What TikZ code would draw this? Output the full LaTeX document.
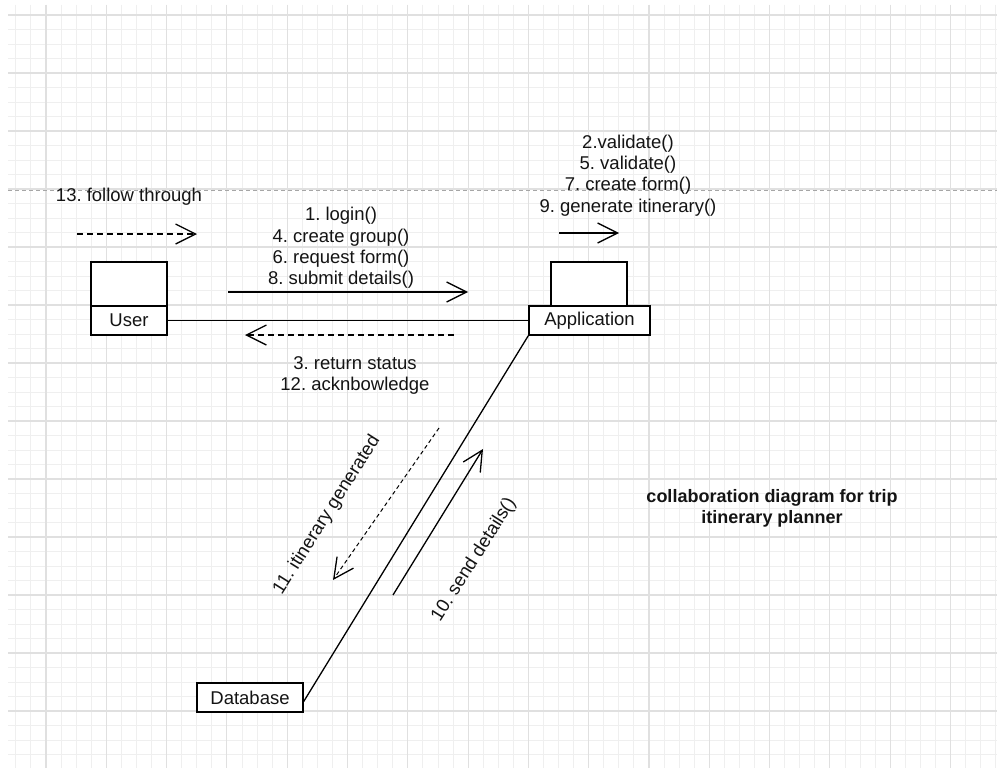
\documentclass[tikz,border=0pt]{standalone}
\usepackage{fontspec}
\setmainfont{Liberation Sans}
\usetikzlibrary{arrows.meta}
\definecolor{gridminor}{HTML}{EFEFEF}
\definecolor{gridmajor}{HTML}{E0E0E0}
\definecolor{inkc}{HTML}{141414}
\frenchspacing
\begin{document}
\begin{tikzpicture}[x=1pt,y=-1pt,
  minorline/.style={draw=gridminor,line width=0.9pt},
  majorline/.style={draw=gridmajor,line width=1.1pt},
  pagebreak/.style={draw=black!35,line width=1pt,dash pattern=on 4pt off 3pt},
  box/.style={draw=black,line width=1.4pt,fill=white,inner sep=0pt,text=inkc,font=\fontsize{18.5}{21}\selectfont},
  lbl/.style={font=\fontsize{18.5}{21.4}\selectfont,align=center,inner sep=0pt,text=inkc},
  ttl/.style={font=\fontsize{18}{21}\selectfont\bfseries,align=center,inner sep=0pt,text=inkc},
  tip/.style={-{Straight Barb[length=20pt,width=20pt,line width=1.3pt]}},
  msgsolid/.style={draw=black,line width=1.3pt,tip},
  msgdash/.style={draw=black,line width=1.2pt,dash pattern=on 6pt off 4pt,tip},
  msgdot/.style={draw=black,line width=1pt,dash pattern=on 4pt off 3pt,tip},
  link/.style={draw=black,line width=1.3pt}
]
% canvas
\fill[white] (0,0) rectangle (997,768);
\useasboundingbox (0,0) rectangle (997,768);

% grid
\begin{scope}
  \clip (8,5) rectangle (997,768);
  \foreach \k in {-3,...,64} \draw[minorline] ({46+\k*15.075},5) -- ({46+\k*15.075},768);
  \foreach \k in {-1,...,53} \draw[minorline] (8,{15+\k*14.5}) -- (997,{15+\k*14.5});
  \foreach \k in {0,...,15} \draw[majorline] ({46+\k*60.3},5) -- ({46+\k*60.3},768);
  \foreach \k in {0,...,12} \draw[majorline] (8,{15+\k*58}) -- (997,{15+\k*58});
\end{scope}
\draw[pagebreak] (8,190) -- (997,190);

% objects
\node[box,minimum width=76pt,minimum height=44pt] (userhead) at (129,284) {};
\node[box,minimum width=76pt,minimum height=29pt] (user) at (129,320.5) {User};
\node[box,minimum width=76pt,minimum height=44pt] (apphead) at (589,284) {};
\node[box,minimum width=121pt,minimum height=29pt] (app) at (589.5,320.5) {Application};
\node[box,minimum width=106pt,minimum height=29pt] (db) at (250,697.5) {Database};

% links
\draw[link] (user.east) -- (app.west);
\draw[link] (app.south west) -- ([yshift=-4pt]db.east);

% message arrows
\coordinate (f1) at (77,234);   \coordinate (f2) at (197,234);
\coordinate (l1) at (228,292);  \coordinate (l2) at (468,292);
\coordinate (r1) at (454,335);  \coordinate (r2) at (245,335);
\coordinate (v1) at (559,233);  \coordinate (v2) at (619,233);
\coordinate (g1) at (439,428);  \coordinate (g2) at (333,580);
\coordinate (s1) at (393,595);  \coordinate (s2) at (483,449);

\draw[msgdash] (f1) -- (f2);
\draw[msgsolid] (l1) -- (l2);
\draw[msgdash] (r1) -- (r2);
\draw[msgsolid] (v1) -- (v2);
\draw[msgdot] (g1) -- (g2);
\draw[msgsolid] (s1) -- (s2);

% labels
\node[lbl] (tfollow) at (129,197) {13. follow through};
\node[lbl] (tlogin) at (341,248) {1. login()\\4. create group()\\6. request form()\\8. submit details()};
\node[lbl] (treturn) at (355,375.5) {3. return status\\12. acknbowledge};
\node[lbl] (tvalid) at (628,175.5) {2.validate()\\5. validate()\\7. create form()\\9. generate itinerary()};
\node[lbl,rotate=57.7] (titin) at (327,515) {11. itinerary generated};
\node[lbl,rotate=57.7] (tsend) at (474,560) {10. send details()};
\node[ttl] (title) at (772,508.5) {collaboration diagram for trip\\itinerary planner};
\end{tikzpicture}
\end{document}
